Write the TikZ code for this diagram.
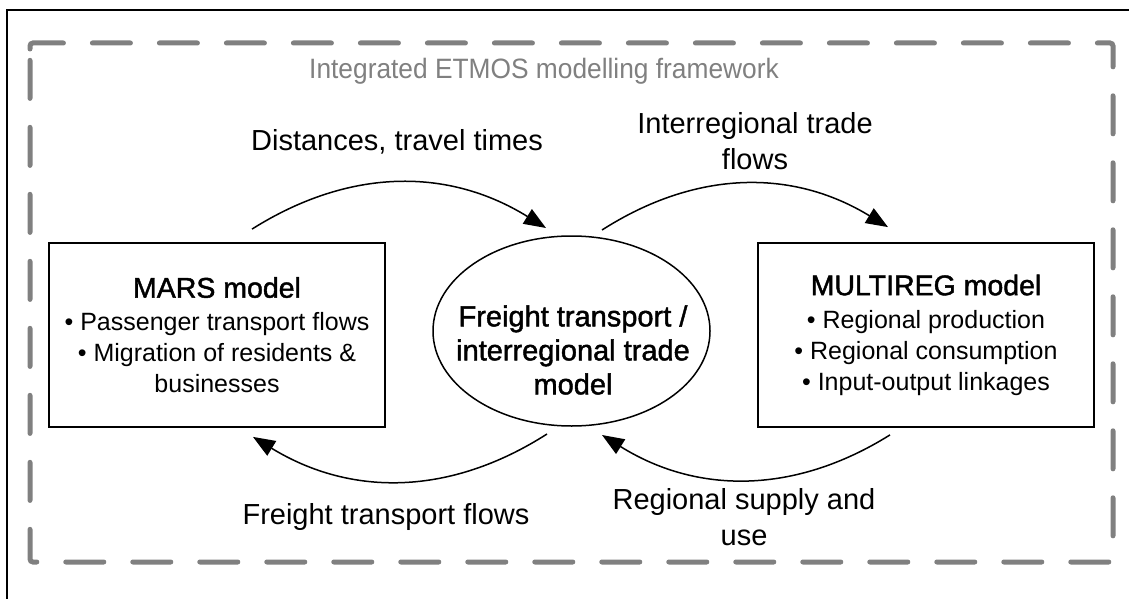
\documentclass[tikz,border=0pt]{standalone}
\usepackage{fontspec}
\setmainfont{Liberation Sans}
\newfontfamily\hdfont{Liberation Sans}[FakeBold=1.5]
\newfontfamily\titlefont{Liberation Sans}[FakeStretch=0.94]
\usetikzlibrary{shapes.geometric,arrows.meta}
\definecolor{framegray}{RGB}{128,128,128}
\begin{document}
\begin{tikzpicture}[x=1pt,y=-1pt,
  box/.style={draw=black,line width=1.8pt,minimum width=336pt,minimum height=184pt,inner sep=0pt,align=center,font=\fontsize{25}{31}\selectfont},
  flow/.style={line width=1.5pt,-{Triangle[length=22pt,width=17pt]}},
  lbl/.style={align=center,inner sep=0pt,font=\fontsize{29}{36}\selectfont}]
\useasboundingbox (0,0) rectangle (1129,599);
\fill[white] (0,0) rectangle (1129,599);
\draw[line width=1.5pt] (7,599) -- (7,10) -- (1129,10);
\draw[framegray,line width=5pt,line cap=round,rounded corners=3pt,dash pattern=on 38pt off 29pt]
  (30,52) -- (30,43) -- (1113,43) -- (1113,562) -- (30,562) -- cycle;
\node[font=\titlefont\fontsize{28}{32}\selectfont,text=framegray,inner sep=0pt] (title) at (544,71) {Integrated ETMOS modelling framework};

\node[box] (mars) at (217,335) {{\hdfont\fontsize{28.5}{31}\selectfont MARS model}\\[2pt] • Passenger transport flows\\ • Migration of residents \&\\ businesses};
\node[box] (multireg) at (926,335) {{\hdfont\fontsize{28.5}{31}\selectfont MULTIREG model}\\[2pt] • Regional production\\ • Regional consumption\\ • Input-output linkages};

\node[ellipse,draw,line width=1.5pt,minimum width=277pt,minimum height=190pt,inner sep=0pt] (freight) at (571.5,331) {};
\node[align=center,inner sep=0pt,font=\hdfont\fontsize{29}{34}\selectfont] (freighttext) at (573,350) {Freight transport /\\interregional trade\\model};

\node[lbl] (dist) at (397,142) {Distances, travel times};
\node[lbl] (trade) at (755,141) {Interregional trade\\flows};
\node[lbl] (ftf) at (386,517) {Freight transport flows};
\node[lbl] (supply) at (744,517) {Regional supply and\\use};

\draw[flow] ([shift={(35,-13)}]mars.north) to[bend left=32] ([shift={(-25.5,-103)}]freight.center);
\draw[flow] ([shift={(30.5,-101)}]freight.center) to[bend left=32] ([shift={(-38,-15)}]multireg.north);
\draw[flow] ([shift={(-24.5,103)}]freight.center) to[bend left=32] ([shift={(36,9)}]mars.south);
\draw[flow] ([shift={(-36,7)}]multireg.south) to[bend left=32] ([shift={(30.5,104)}]freight.center);
\end{tikzpicture}
\end{document}
